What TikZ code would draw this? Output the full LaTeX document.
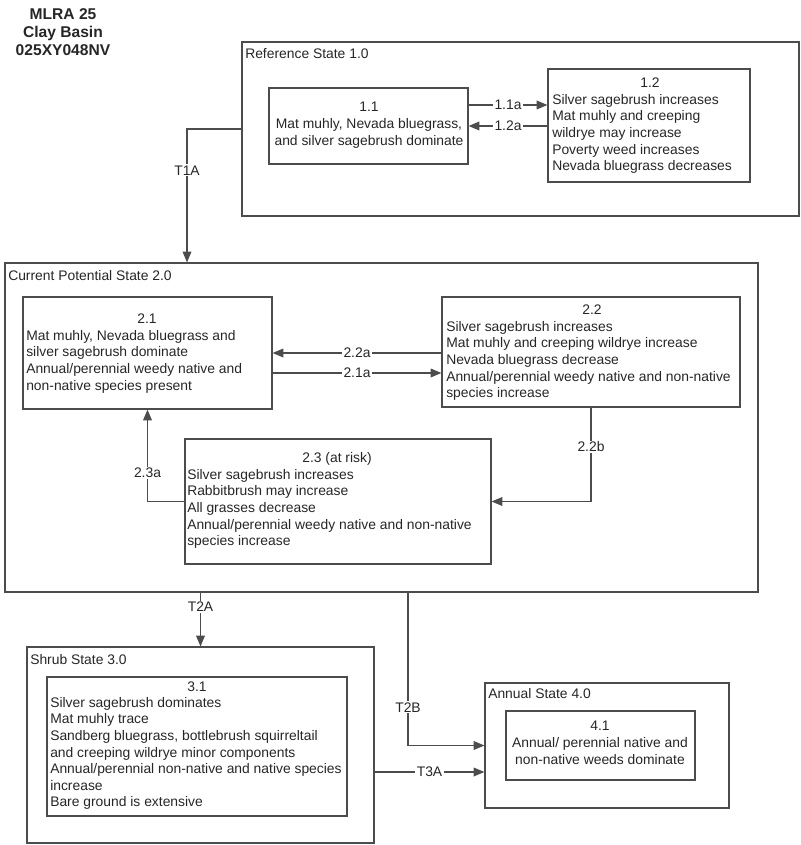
\documentclass[tikz,border=0pt]{standalone}
\usepackage{fontspec}
\setmainfont{Liberation Sans}
\usetikzlibrary{arrows.meta,fit,calc}
\newcommand\bodyfs{\fontsize{10.4}{12.45}\selectfont}
\begin{document}
\begin{tikzpicture}[x=0.75pt,y=-0.75pt,
  lc/.style={draw=black!70, line width=0.9pt},
  box/.style={lc, inner sep=0pt},
  ar/.style={lc, -{Triangle[length=8pt,width=6.5pt]}},
  lab/.style={fill=white, inner sep=1pt, font=\bodyfs, text=black!85},
  txt/.style={inner sep=0pt, align=left, anchor=north west, font=\bodyfs, text=black!85},
  num/.style={inner sep=0pt, font=\bodyfs, text=black!85},
  ctxt/.style={inner sep=0pt, align=center, anchor=north, font=\bodyfs, text=black!85},
  stl/.style={inner sep=0pt, anchor=west, font=\bodyfs, text=black!85}]
\useasboundingbox (0,0) rectangle (800,845);

% title
\node[inner sep=0pt, align=center, font=\fontsize{11.7}{13.5}\selectfont\bfseries, text=black!85] (title) at (63,32) {MLRA 25\\Clay Basin\\025XY048NV};

% state containers
\node[box, fit={(242,42)(799,216)}] (ref) {};
\node[box, fit={(5,263)(758,592)}] (cur) {};
\node[box, fit={(27,647)(374,843)}] (shr) {};
\node[box, fit={(485,683)(729,808)}] (ann) {};

\node[stl] (refl) at (245,54) {Reference State 1.0};
\node[stl] (curl) at (8,276) {Current Potential State 2.0};
\node[stl] (shrl) at (30,660) {Shrub State 3.0};
\node[stl] (annl) at (488,694) {Annual State 4.0};

% community phase boxes
\node[box, fit={(269,88)(468,164)}] (b11) {};
\node[box, fit={(548,69)(750,182)}] (b12) {};
\node[box, fit={(23,297)(272,409)}] (b21) {};
\node[box, fit={(442,297)(740,407)}] (b22) {};
\node[box, fit={(185,439)(491,564)}] (b23) {};
\node[box, fit={(47,677)(347,816)}] (b31) {};
\node[box, fit={(506,711)(695,780)}] (b41) {};

% texts
\node[ctxt] (t11) at (369,102) {1.1\\Mat muhly, Nevada bluegrass,\\and silver sagebrush dominate};
\node[num] (n12) at (650,83) {1.2};
\node[txt] (t12) at (552,94) {Silver sagebrush increases\\Mat muhly and creeping\\wildrye may increase\\Poverty weed increases\\Nevada bluegrass decreases};
\node[num] (n21) at (147,319) {2.1};
\node[txt] (t21) at (26,330) {Mat muhly, Nevada bluegrass and\\silver sagebrush dominate\\Annual/perennial weedy native and\\non-native species present};
\node[num] (n22) at (592,310) {2.2};
\node[txt] (t22) at (446,321) {Silver sagebrush increases\\Mat muhly and creeping wildrye increase\\Nevada bluegrass decrease\\Annual/perennial weedy native and non-native\\species increase};
\node[num] (n23) at (337,459) {2.3 (at risk)};
\node[txt] (t23) at (187,469) {Silver sagebrush increases\\Rabbitbrush may increase\\All grasses decrease\\Annual/perennial weedy native and non-native\\species increase};
\node[num] (n31) at (197,687) {3.1};
\node[txt] (t31) at (50,697) {Silver sagebrush dominates\\Mat muhly trace\\Sandberg bluegrass, bottlebrush squirreltail\\and creeping wildrye minor components\\Annual/perennial non-native and native species\\increase\\Bare ground is extensive};
\node[ctxt] (t41) at (600,721) {4.1\\Annual/ perennial native and\\non-native weeds dominate};

% connectors
\coordinate (t1a) at (187,129);
\draw[ar] (ref.west) -- (t1a) -- node[lab, pos=0.31] {T1A} (t1a |- cur.north);

\draw[ar] ($(b11.east)+(0,-21)$) -- node[lab] {1.1a} ($(b12.west |- b11.east)+(0,-21)$);
\draw[ar] (b12.west |- b11.east) -- node[lab] {1.2a} (b11.east);

\draw[ar] (b22.west |- b21.east) -- node[lab] {2.2a} (b21.east);
\draw[ar] ($(b21.east)+(0,20)$) -- node[lab] {2.1a} ($(b22.west |- b21.east)+(0,20)$);

\coordinate (c22b) at (b22.south |- b23.east);
\draw[ar] (b22.south) -- node[lab, pos=0.42] {2.2b} (c22b) -- (b23.east);

\coordinate (c23a) at (b21.south |- b23.west);
\draw[ar] (b23.west) -- (c23a) -- node[lab, pos=0.31] {2.3a} (b21.south);

\draw[ar] (cur.south -| shr.north) -- node[lab, pos=0.27] {T2A} (shr.north);

\coordinate (t2b) at (408,0);
\coordinate (c2b) at (t2b |- ann.west);
\draw[ar] (t2b |- cur.south) -- node[lab, pos=0.75] {T2B} (c2b) -- (ann.west);

\coordinate (t3a) at (0,772);
\draw[ar] (shr.east |- t3a) -- node[lab] {T3A} (ann.west |- t3a);
\end{tikzpicture}
\end{document}
